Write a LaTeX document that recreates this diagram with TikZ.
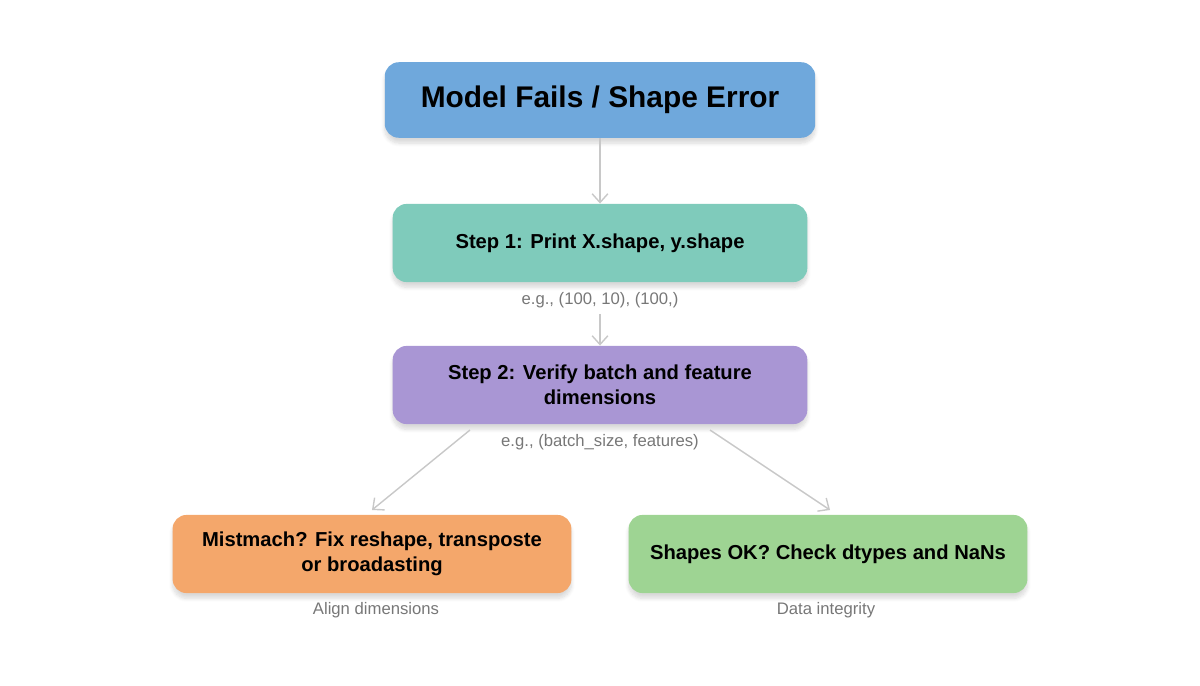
\documentclass[tikz,border=0pt]{standalone}
\usepackage{fontspec}
\setmainfont{Liberation Sans}
\usetikzlibrary{arrows.meta,shadows.blur}
\definecolor{cblue}{HTML}{6FA8DC}
\definecolor{cteal}{HTML}{7FCBBB}
\definecolor{cpurple}{HTML}{A996D4}
\definecolor{corange}{HTML}{F4A76B}
\definecolor{cgreen}{HTML}{9ED493}
\definecolor{cline}{HTML}{C8C8C8}
\definecolor{cnote}{HTML}{777777}
\tikzset{step/.style = {rounded corners=8pt, minimum height=#1, align=center,
                        font=\fontsize{11.5}{14}\selectfont\bfseries,
                        blur shadow={shadow blur steps=8, shadow xshift=0pt, shadow yshift=-3pt, shadow opacity=15}},
         step/.default=44.5pt,
         note/.style = {text=cnote, font=\fontsize{9.5}{11}\selectfont},
         flow/.style = {draw=cline, line width=0.8pt, -{Straight Barb[length=5pt,width=9pt]}}
        }
\begin{document}
\begin{tikzpicture}[x=0.02cm,y=-0.02cm]
  \useasboundingbox (0,0) rectangle (1200,686);
  \node[step=43pt, fill=cblue, minimum width=245pt, font=\fontsize{17}{20}\selectfont\bfseries] (fail) at (600,100) {Model Fails / Shape Error};
  \node[step, fill=cteal, minimum width=236pt] (s1) at (600,243) {Step 1: Print X.shape, y.shape};
  \node[note] (n1) at (600,300) {e.g., (100, 10), (100,)};
  \node[step, fill=cpurple, minimum width=236pt] (s2) at (600,385) {Step 2: Verify batch and feature\\dimensions};
  \node[note] (n2) at (600,442) {e.g., (batch\_size, features)};
  \node[step, fill=corange, minimum width=227pt] (fix) at (372,554) {Mistmach? Fix reshape, transposte\\or broadasting};
  \node[note] (n3) at (376,610) {Align dimensions};
  \node[step, fill=cgreen, minimum width=227pt] (ok) at (828,554) {Shapes OK? Check dtypes and NaNs};
  \node[note] (n4) at (826,610) {Data integrity};
  % connectors
  \draw[flow] (fail) -- (s1);
  \draw[flow] (n1) -- (s2);
  \draw[flow] (n2.west) ++(-25,-12) coordinate (a) (a) -- ++(-98,80);
  \draw[flow] (n2.east) ++(5,-12) coordinate (b) (b) -- ++(120,80);
\end{tikzpicture}
\end{document}
